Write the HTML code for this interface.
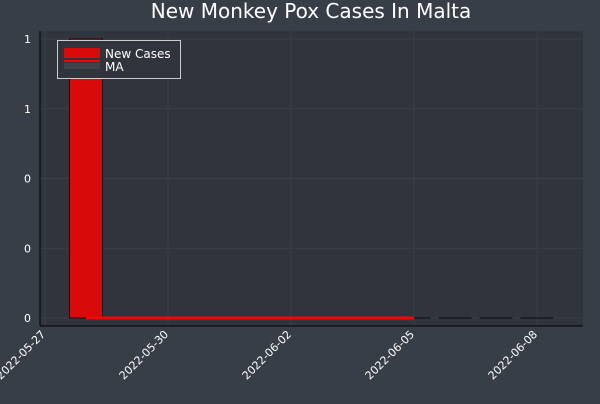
<!DOCTYPE html>
<html><head><meta charset="utf-8"><style>
body{margin:0;background:#383e48;font-family:"DejaVu Sans","Liberation Sans",sans-serif;}
svg text{fill:#fff;}
</style></head><body>
<svg width="600" height="400" xmlns="http://www.w3.org/2000/svg">
<rect width="600" height="400" fill="#383e48"/>
<text x="311" y="18" font-size="20" text-anchor="middle">New Monkey Pox Cases In Malta</text>
<rect x="40" y="31" width="543" height="295" fill="#30343c"/>
<g id="grid"></g>
<g id="bars"></g>
<g id="lines"></g>
<line x1="40" y1="31" x2="40" y2="326" stroke="#000" stroke-width="1"/>
<line x1="40" y1="326" x2="583" y2="326" stroke="#000" stroke-width="1"/>
<g id="ticks"></g>
<g>
<rect x="57.5" y="40.5" width="123" height="38" fill="#30343c" stroke="#ccc" stroke-width="1"/>
<rect x="64" y="48" width="36" height="10" fill="#d90a0a"/>
<rect x="64" y="60" width="36" height="2" fill="#ff0000"/>
<rect x="64" y="63" width="36" height="6" fill="#3e434c"/>
<text x="105" y="58" font-size="12">New Cases</text>
<text x="105" y="71" font-size="12">MA</text>
</g>
</svg>
<script>
const categories=["2022-05-28","2022-05-29","2022-05-30","2022-05-31","2022-06-01","2022-06-02","2022-06-03","2022-06-04","2022-06-05","2022-06-06","2022-06-07","2022-06-08"];
const newCases=[1,0,0,0,0,0,0,0,0,0,0,0];
const maDates=["2022-05-28","2022-05-29","2022-05-30","2022-05-31","2022-06-01","2022-06-02","2022-06-03","2022-06-04","2022-06-05"];
const maValues=[0,0,0,0,0,0,0,0,0];
const xTicks=["2022-05-27","2022-05-30","2022-06-02","2022-06-05","2022-06-08"];
const yTicks=[0,0.25,0.5,0.75,1];
const yTickLabels=["0","0","0","1","1"];
const NS="http://www.w3.org/2000/svg";
const d0=Date.parse("2022-05-27");
function x(d){return 45+41*(Date.parse(d)-d0)/86400000;}
function y(v){return 318-279*v;}
function mk(t,a,p){const e=document.createElementNS(NS,t);for(const k in a)e.setAttribute(k,a[k]);document.getElementById(p).appendChild(e);return e;}
yTicks.forEach((v,i)=>{
 const g=mk('line',{x1:40,x2:583,y1:y(v),y2:y(v),stroke:'#3a3f48','stroke-width':1},'grid');
 
 
 const t=mk('text',{x:31,y:y(v)+4,'font-size':11,'text-anchor':'end'},'ticks');
 t.textContent=yTickLabels[i];
 
 
});
xTicks.forEach(d=>{
 const g=mk('line',{x1:x(d),x2:x(d),y1:31,y2:326,stroke:'#3a3f48','stroke-width':1},'grid');
 
 
 const t=mk('text',{x:x(d)+1,y:335,'font-size':11,'text-anchor':'end',transform:`rotate(-45 ${x(d)+1} 335)`},'ticks');
 t.textContent=d;
 
 
});
categories.forEach((d,i)=>{
 const h=y(0)-y(newCases[i]);
 let r;
 if(h>0){
  r=mk('rect',{x:x(d)-16.5,y:y(newCases[i]),width:33,height:h,fill:'#d90a0a',stroke:'#111','stroke-width':1},'bars');
 }else{
  r=mk('line',{x1:x(d)-16.5,x2:x(d)+16.5,y1:y(0),y2:y(0),stroke:'#151515','stroke-width':1.2},'bars');
 }
 
 
});
const l=mk('polyline',{points:maDates.map((d,i)=>x(d)+','+y(maValues[i])).join(' '),fill:'none',stroke:'#ff0000','stroke-width':3},'lines');


</script>
</body></html>
